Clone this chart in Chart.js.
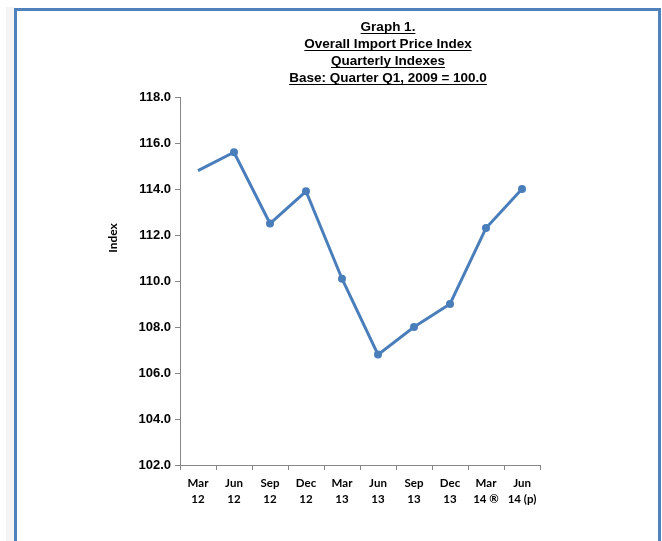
<!DOCTYPE html>
<html>
<head>
<meta charset="utf-8">
<script src="https://cdn.jsdelivr.net/npm/chart.js@4.4.1/dist/chart.umd.min.js"></script>
<style>
  body { margin: 0; background: #fff; }
  #strip { position: absolute; left: 6px; top: 7px; width: 9px; height: 600px; background: #f4f4f4; }
  #frame { position: absolute; left: 14px; top: 8px; width: 647px; height: 600px; box-sizing: border-box; border: 3px solid #4f81bd; }
  #wrap { position: absolute; left: 0; top: 0; width: 662px; height: 541px; }
</style>
</head>
<body>
<div id="strip"></div>
<div id="frame"></div>
<div id="wrap"><canvas id="chart" width="662" height="541"></canvas></div>
<script>
// chart data
const quarters = [['Mar', '12'], ['Jun', '12'], ['Sep', '12'], ['Dec', '12'], ['Mar', '13'],
                  ['Jun', '13'], ['Sep', '13'], ['Dec', '13'], ['Mar', '14 \u00ae'], ['Jun', '14 (p)']];
const indexValues = [114.8, 115.6, 112.5, 113.9, 110.1, 106.8, 108.0, 109.0, 112.3, 114.0];
const titleLines = ['Graph 1.', 'Overall Import Price Index', 'Quarterly Indexes', 'Base: Quarter Q1, 2009 = 100.0'];
const axisTitle = 'Index';

// underlined title and axis title drawn on the canvas
const textLayer = {
  id: 'textLayer',
  afterDraw(chart) {
    const ctx = chart.ctx;
    ctx.save();
    ctx.font = 'bold 13.5px "Liberation Sans", Arial, sans-serif';
    ctx.fillStyle = '#000';
    ctx.strokeStyle = '#000';
    ctx.lineWidth = 1;
    ctx.textAlign = 'center';
    ctx.textBaseline = 'alphabetic';
    const cx = 388;
    titleLines.forEach((t, i) => {
      const y = 31 + i * 17;
      ctx.fillText(t, cx, y);
      const w = ctx.measureText(t).width;
      ctx.beginPath();
      ctx.moveTo(cx - w / 2, y + 2.5);
      ctx.lineTo(cx + w / 2, y + 2.5);
      ctx.stroke();
    });
    ctx.translate(113, 238);
    ctx.rotate(-Math.PI / 2);
    ctx.textBaseline = 'middle';
    ctx.font = 'bold 12px Lato, "Liberation Sans", sans-serif';
    ctx.fillText(axisTitle, 0, 0);
    ctx.restore();
  }
};

new Chart(document.getElementById('chart'), {
  type: 'line',
  data: {
    labels: quarters,
    datasets: [{
      label: 'Index',
      data: indexValues,
      borderColor: '#4a7ebb',
      backgroundColor: '#4a7ebb',
      borderWidth: 3,
      tension: 0,
      pointRadius: indexValues.map((v, i) => i === 0 ? 0 : 4),
      pointBorderWidth: 0
    }]
  },
  options: {
    responsive: false,
    animation: false,
    layout: { padding: { left: 100, right: 122, top: 97, bottom: 30 } },
    scales: {
      y: {
        min: 102, max: 118,
        afterFit(s) { s.width = 80; },
        border: { color: '#868686', width: 1 },
        grid: { drawOnChartArea: false, tickLength: 5, color: '#868686' },
        ticks: {
          stepSize: 2, padding: 4, color: '#000',
          font: { family: '"Liberation Sans", Arial, sans-serif', size: 13, weight: 'bold' },
          callback: v => v.toFixed(1)
        }
      },
      x: {
        offset: true,
        afterFit(s) { s.height = 46; },
        border: { color: '#868686', width: 1 },
        grid: { drawOnChartArea: false, offset: true, tickLength: 5, color: '#868686' },
        ticks: {
          color: '#000', padding: 5, maxRotation: 0, autoSkip: false,
          font: { family: 'Lato, "Liberation Sans", sans-serif', size: 11.5, weight: 'bold', lineHeight: 1.4 }
        }
      }
    },
    plugins: { legend: { display: false }, tooltip: { enabled: false } }
  },
  plugins: [textLayer]
});
</script>
</body>
</html>
